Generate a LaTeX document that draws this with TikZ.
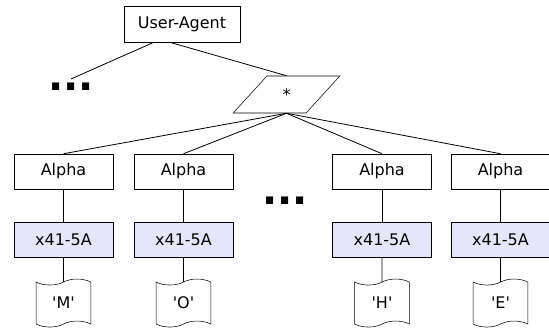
\documentclass[tikz,border=0pt]{standalone}
\usepackage{fontspec}
\setmainfont{DejaVu Sans}
\usetikzlibrary{positioning,shapes.geometric,shapes.symbols}
\definecolor{lavender}{RGB}{230,230,250}

\begin{document}
\begin{tikzpicture}[
    x=0.75pt, y=-0.75pt,
    font=\fontsize{12}{14}\selectfont,
    node distance=24.75pt,
    box/.style={rectangle, draw, minimum width=74.25pt, minimum height=26.25pt, inner sep=2pt},
    hexbox/.style={box, fill=lavender},
    wildcard/.style={trapezium, draw, trapezium left angle=55, trapezium right angle=125, trapezium stretches=true, minimum width=80pt, minimum height=27.75pt},
    doc/.style={tape, draw, minimum width=41pt, minimum height=36pt, tape bend height=4.5pt, inner sep=2pt},
    more/.style={font=\bfseries\fontsize{30}{30}\selectfont, inner sep=3pt},
    link/.style={line width=0.6pt}
]
    \useasboundingbox (0,0) rectangle (549,331);

    \node[box, minimum width=87pt, minimum height=27pt] (agent) at (182,24) {User-Agent};
    \node[wildcard] (any) at (286.5,94.5) {*};
    \node[more] (dotsl) at (71,87) {...};
    \node[more] (dotsm) at (285,201) {...};

    \node[box] (alpha1) at (63.5,171.5) {Alpha};
    \node[box] (alpha2) at (183.5,171.5) {Alpha};
    \node[box] (alpha3) at (382,171.5) {Alpha};
    \node[box] (alpha4) at (500.5,171.5) {Alpha};

    \node[hexbox] (hex1) [below=of alpha1] {x41-5A};
    \node[hexbox] (hex2) [below=of alpha2] {x41-5A};
    \node[hexbox] (hex3) [below=of alpha3] {x41-5A};
    \node[hexbox] (hex4) [below=of alpha4] {x41-5A};

    \node[doc] (char1) [below=18pt of hex1] {\textquotesingle M\textquotesingle};
    \node[doc] (char2) [below=18pt of hex2] {\textquotesingle O\textquotesingle};
    \node[doc] (char3) [below=18pt of hex3] {\textquotesingle H\textquotesingle};
    \node[doc] (char4) [below=18pt of hex4] {\textquotesingle E\textquotesingle};

    \draw[link] (agent.213) -- (dotsl.north);
    \draw[link] (agent.236) -- (any.north);
    \draw[link] (any.south) -- (alpha1.north);
    \draw[link] (any.south) -- (alpha2.north);
    \draw[link] (any.south) -- (alpha3.north);
    \draw[link] (any.south) -- (alpha4.north);
    \draw[link] (alpha1) -- (hex1);
    \draw[link] (alpha2) -- (hex2);
    \draw[link] (alpha3) -- (hex3);
    \draw[link] (alpha4) -- (hex4);
    \draw[link] (hex1) -- (char1);
    \draw[link] (hex2) -- (char2);
    \draw[link] (hex3) -- (char3);
    \draw[link] (hex4) -- (char4);
\end{tikzpicture}
\end{document}
